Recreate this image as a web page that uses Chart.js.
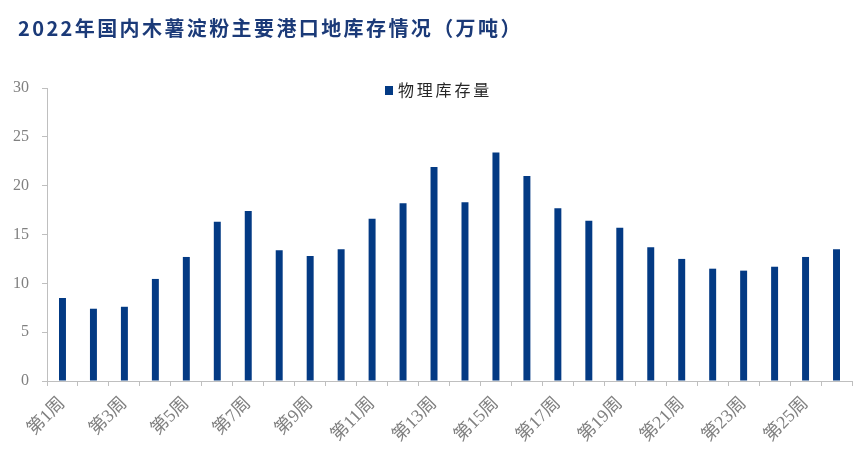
<!DOCTYPE html>
<html>
<head>
<meta charset="utf-8">
<script src="https://cdn.jsdelivr.net/npm/chart.js@4"></script>
<style>
  html, body { margin: 0; padding: 0; background: #ffffff; }
  #wrap { position: relative; width: 865px; height: 461px; overflow: hidden; }
  #c { position: absolute; left: 0; top: 0; }
  #title { position: absolute; left: 18px; top: 13px; font-family: "Noto Sans CJK SC", sans-serif; font-weight: bold; font-size: 20px; letter-spacing: 2.4px; color: #1b3a78; white-space: nowrap; }
  #legend { position: absolute; left: 385px; top: 77px; font-family: "Noto Sans CJK SC", sans-serif; font-size: 16px; color: #262626; white-space: nowrap; letter-spacing: 2.8px; }
  #legend .sw { display: inline-block; width: 8px; height: 9px; background: #033a84; margin-right: 5px; vertical-align: 1px; }
</style>
</head>
<body>
<div id="wrap">
  <canvas id="c" width="865" height="461"></canvas>
  <div id="title">2022年国内木薯淀粉主要港口地库存情况（万吨）</div>
  <div id="legend"><span class="sw"></span>物理库存量</div>
</div>
<script>
const categories = ["第1周","第2周","第3周","第4周","第5周","第6周","第7周","第8周","第9周","第10周","第11周","第12周","第13周","第14周","第15周","第16周","第17周","第18周","第19周","第20周","第21周","第22周","第23周","第24周","第25周","第26周"];
const seriesName = "物理库存量";
const inventory = [8.5, 7.4, 7.6, 10.45, 12.7, 16.3, 17.4, 13.4, 12.8, 13.5, 16.6, 18.2, 21.9, 18.3, 23.4, 21.0, 17.7, 16.4, 15.7, 13.7, 12.5, 11.5, 11.3, 11.7, 12.7, 13.5];
const yTicks = [0, 5, 10, 15, 20, 25, 30];

const axisColor = '#bfbfbf';
const labelColor = '#808080';

new Chart(document.getElementById('c'), {
  type: 'bar',
  data: {
    labels: categories,
    datasets: [{
      label: seriesName,
      data: inventory,
      backgroundColor: '#033a84',
      borderWidth: 0,
      barPercentage: 0.75,
      categoryPercentage: 0.3
    }]
  },
  options: {
    responsive: false,
    animation: false,
    layout: { padding: { left: 0, right: 13, top: 88, bottom: 0 } },
    plugins: {
      legend: { display: false },
      title: { display: false },
      tooltip: { enabled: false }
    },
    scales: {
      x: {
        offset: true,
        afterFit: (s) => { s.height = 80; },
        grid: { display: true, offset: true, drawOnChartArea: false, drawTicks: true, tickLength: 5, color: axisColor, tickColor: axisColor },
        border: { display: true, color: axisColor, width: 1 },
        ticks: {
          autoSkip: false,
          maxRotation: 45,
          minRotation: 45,
          padding: 7,
          color: labelColor,
          font: { family: '"Liberation Serif", "Noto Sans CJK SC", serif', size: 18 },
          callback: function(v, i) { return i % 2 === 0 ? categories[i] : ''; }
        }
      },
      y: {
        min: yTicks[0],
        max: yTicks[yTicks.length - 1],
        afterFit: (s) => { s.width = 47; },
        afterBuildTicks: (s) => { s.ticks = yTicks.map(v => ({ value: v })); },
        grid: { display: true, drawOnChartArea: false, drawTicks: true, tickLength: 5, color: axisColor, tickColor: axisColor },
        border: { display: true, color: axisColor, width: 1 },
        ticks: {
          padding: 13,
          color: labelColor,
          font: { family: '"Liberation Serif", serif', size: 16 }
        }
      }
    }
  }
});
</script>
</body>
</html>
